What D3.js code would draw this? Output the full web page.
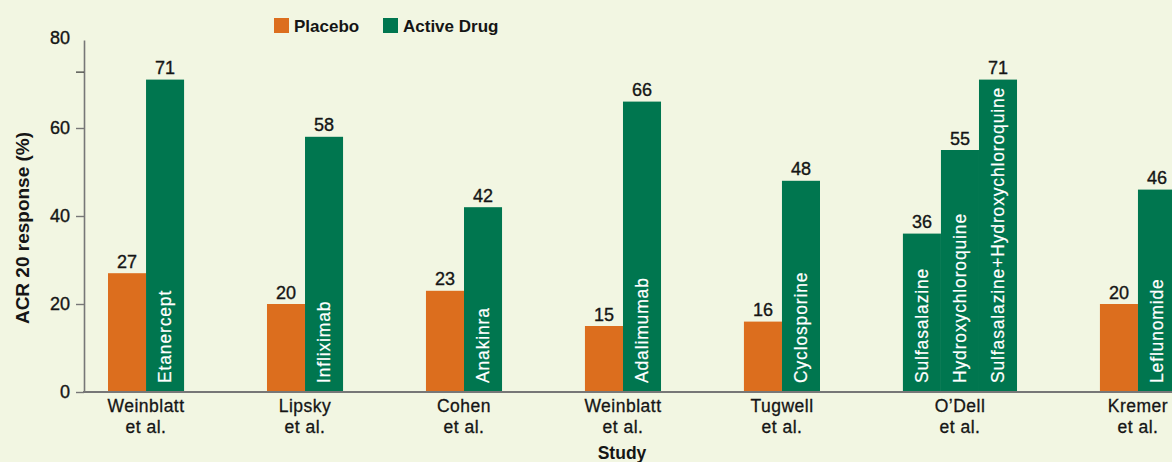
<!DOCTYPE html>
<html>
<head>
<meta charset="utf-8">
<script src="https://cdn.jsdelivr.net/npm/d3@7"></script>
<style>
  html, body { margin: 0; padding: 0; background: #f2f6e2; }
  svg { display: block; }
  text { font-family: 'Liberation Sans', Arial, Helvetica, sans-serif; fill: #151515; }
</style>
</head>
<body>
<svg id="chart" width="1172" height="462"></svg>
<script>
// ---------------- DATA ----------------
const studyNames = ["Weinblatt", "Lipsky", "Cohen", "Weinblatt", "Tugwell", "O\u2019Dell", "Kremer"];
const studySuffix = ["et al.", "et al.", "et al.", "et al.", "et al.", "et al.", "et al."];
const placeboValues = [27, 20, 23, 15, 16, null, 20];
const drugNames = [
  ["Etanercept"],
  ["Infliximab"],
  ["Anakinra"],
  ["Adalimumab"],
  ["Cyclosporine"],
  ["Sulfasalazine", "Hydroxychloroquine", "Sulfasalazine+Hydroxychloroquine"],
  ["Leflunomide"]
];
const drugValues = [[71], [58], [42], [66], [48], [36, 55, 71], [46]];
const seriesNames = ["Placebo", "Active Drug"];
const yTickValues = [0, 20, 40, 60, 80];
const yMinorTicks = [72.7];
const yTitle = "ACR 20 response (%)";
const xTitle = "Study";

// ---------------- STYLE ----------------
const colors = { "Placebo": "#dc6e1e", "Active Drug": "#00764f" };
const W = 1172, H = 462;
const axisX = 84;
const gapUnits = 2.18;

const svg = d3.select("#chart");
svg.append("rect").attr("width", W).attr("height", H).attr("fill", "#f2f6e2");

// Build bar list from data
const bars = [];
const groups = [];
let u = 0;
studyNames.forEach((name, i) => {
  const start = u;
  if (placeboValues[i] != null) {
    bars.push({ series: "Placebo", value: placeboValues[i], label: null, unit: u });
    u += 1;
  }
  drugValues[i].forEach((v, j) => {
    bars.push({ series: "Active Drug", value: v, label: drugNames[i][j], unit: u });
    u += 1;
  });
  groups.push({ name, suffix: studySuffix[i], start, end: u });
  if (i < studyNames.length - 1) u += gapUnits;
});
const totalUnits = u;

const x = d3.scaleLinear().domain([0, totalUnits]).range([108, 1176]);
const y = d3.scaleLinear().domain([0, 80]).range([392, 40]);
const bw = x(1) - x(0);

// Y axis
const yAxis = d3.axisLeft(y).tickValues(yTickValues).tickSize(8).tickSizeOuter(0).tickPadding(6);
const gy = svg.append("g").attr("transform", `translate(${axisX},0)`).call(yAxis);
gy.select(".domain").attr("stroke", "#777").attr("stroke-width", 1.6);
gy.selectAll(".tick line").attr("stroke", "#777").attr("stroke-width", 1.4);
gy.selectAll(".tick").filter(d => d === 80).select("line").remove();
gy.selectAll(".tick text")
  .style("font-family", "'Liberation Sans', Arial, sans-serif")
  .style("font-size", "18px").attr("fill", "#151515")
  .attr("stroke", "#151515").attr("stroke-width", 0.35);
gy.selectAll(".tick").filter(d => d === 80).select("text").attr("dy", "0.2em");

// minor tick
svg.selectAll(".minor").data(yMinorTicks).enter().append("line")
  .attr("x1", axisX - 8).attr("x2", axisX)
  .attr("y1", d => y(d)).attr("y2", d => y(d))
  .attr("stroke", "#333").attr("stroke-width", 1.2);

// Bars
svg.selectAll(".bar").data(bars).enter().append("rect")
  .attr("x", d => x(d.unit))
  .attr("y", d => y(d.value))
  .attr("width", bw)
  .attr("height", d => y(0) - y(d.value))
  .attr("fill", d => colors[d.series]);

// X axis line
svg.append("line")
  .attr("x1", axisX - 1).attr("x2", W)
  .attr("y1", y(0)).attr("y2", y(0))
  .attr("stroke", "#777").attr("stroke-width", 1.8);

// value labels
svg.selectAll(".val").data(bars).enter().append("text")
  .attr("x", d => x(d.unit) + bw / 2)
  .attr("y", d => y(d.value) - 5.5)
  .attr("text-anchor", "middle")
  .style("font-size", "18px")
  .attr("stroke", "#151515").attr("stroke-width", 0.35)
  .text(d => d.value);

// inner rotated labels
svg.selectAll(".inner").data(bars.filter(d => d.label)).enter().append("text")
  .attr("transform", d => `translate(${x(d.unit) + bw / 2},${y(0) - 9}) rotate(-90)`)
  .attr("dy", "0.35em")
  .attr("text-anchor", "start")
  .style("font-size", "17.5px")
  .style("letter-spacing", "0.85px")
  .style("fill", "#ffffff")
  .attr("stroke", "#ffffff").attr("stroke-width", 0.2)
  .text(d => d.label);

// group labels
const gl = svg.selectAll(".glabel").data(groups).enter().append("text")
  .attr("text-anchor", "middle")
  .style("font-size", "17.5px")
  .style("letter-spacing", "0.5px")
  .attr("stroke", "#151515").attr("stroke-width", 0.3);
gl.append("tspan").attr("x", d => (x(d.start) + x(d.end)) / 2).attr("y", 412).text(d => d.name);
gl.append("tspan").attr("x", d => (x(d.start) + x(d.end)) / 2).attr("y", 433).text(d => d.suffix);

// axis titles
svg.append("text")
  .attr("transform", `translate(29,228) rotate(-90)`)
  .attr("text-anchor", "middle")
  .style("font-size", "19px").style("font-weight", "bold")
  .text(yTitle);
svg.append("text")
  .attr("x", 622).attr("y", 459)
  .attr("text-anchor", "middle")
  .style("font-size", "17.5px").style("font-weight", "bold")
  .text(xTitle);

// Legend
const legendX = [274, 383];
const lg = svg.selectAll(".leg").data(seriesNames).enter().append("g")
  .attr("transform", (d, i) => `translate(${legendX[i]},18)`);
lg.append("rect").attr("width", 15).attr("height", 15).attr("fill", d => colors[d]);
lg.append("text").attr("x", 20).attr("y", 13.5)
  .style("font-size", "17px").style("font-weight", "bold")
  .text(d => d);
</script>
</body>
</html>
